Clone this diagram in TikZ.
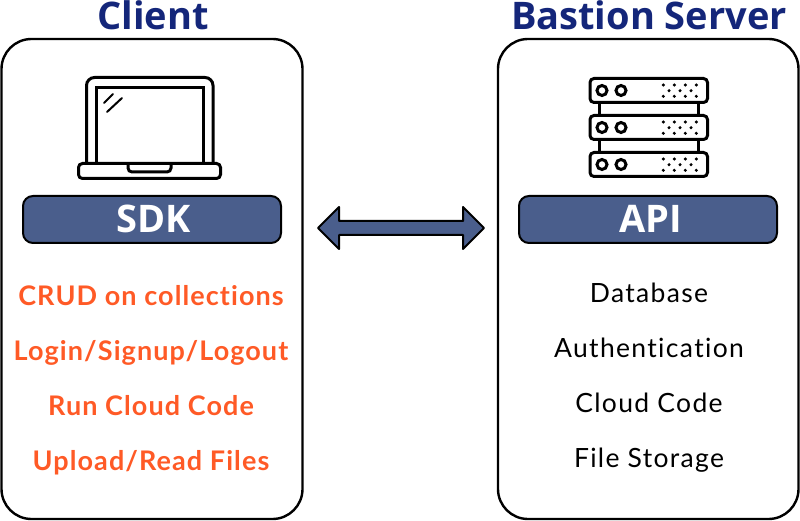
\documentclass[tikz,border=0pt]{standalone}
\usepackage{fontspec}
\setmainfont{Open Sans}
\newfontfamily\widefont[LetterSpace=5,Ligatures=CommonOff]{Lato}
\newfontfamily\boldwide[LetterSpace=4,Ligatures=CommonOff]{Lato}
\definecolor{titleblue}{HTML}{14267A}
\definecolor{barblue}{HTML}{4A5E8C}
\definecolor{clientorange}{HTML}{FF5A26}
\tikzset{
  panel/.style={draw,line width=2.4pt,rounded corners=30pt},
  bar/.style={draw,line width=2pt,fill=barblue,rounded corners=10pt},
  icon/.style={line width=3pt,rounded corners=4pt},
  heading/.style={text=titleblue,anchor=base,font=\fontsize{38}{38}\selectfont\bfseries,inner sep=0pt},
  barlabel/.style={text=white,anchor=base,font=\fontsize{38}{38}\selectfont\bfseries,inner sep=0pt},
  clientitem/.style={text=clientorange,anchor=base,font=\fontsize{27}{27}\boldwide\bfseries,inner sep=0pt},
  serveritem/.style={anchor=base,font=\fontsize{26.5}{26.5}\widefont,inner sep=0pt}
}
\begin{document}
\begin{tikzpicture}[x=1pt,y=-1pt]
  \useasboundingbox(0,0)rectangle(800,521);
  \draw[panel](1.5,39)rectangle(302.5,519);
  \draw[panel](498,39)rectangle(798.5,519);
  \node[heading](clienttitle)at(153,30){Client};
  \node[heading](servertitle)at(649,30){Bastion Server};
  % laptop
  \draw[icon,rounded corners=8pt](86.5,163)--(86.5,77.5)--(213,77.5)--(213,163);
  \draw[icon,rounded corners=0pt](96.5,163)--(96.5,88)--(203,88)--(203,163);
  \draw[icon](78.5,163.5)rectangle(220.5,178.5);
  \draw[icon](128,163.5)--(128,172)--(171,172)--(171,163.5);
  \draw[line width=2pt,line cap=round](104,103)--(113,94)(107,112)--(122,98);
  % server rack
  \foreach \y in {78.5,115.5,152.5}{
    \draw[icon](590,\y)rectangle(707.5,\y+24);
    \draw[line width=3pt](602,\y+12)circle(5)(621,\y+12)circle(5);
    \foreach \x in {663.3,674.3,685.3,696.3}
      \fill(\x,\y+6.5)circle(1.7)(\x,\y+17.8)circle(1.7);
    \foreach \x in {669,680,691}
      \fill(\x,\y+12.2)circle(1.7);
  }
  \draw[line width=3pt](599,102.5)--(599,115.5)(698,102.5)--(698,115.5)
    (599,139.5)--(599,152.5)(698,139.5)--(698,152.5);
  % bars
  \draw[bar](23,196)rectangle(281,243);
  \draw[bar](519,196)rectangle(777,243);
  \node[barlabel](sdk)at(153.5,233){SDK};
  \node[barlabel](api)at(650.5,233){API};
  % arrow
  \draw[line width=2pt,fill=barblue,line join=round](318,228)--(339,207)--(339,221)--(463,221)
    --(463,207)--(484,228)--(463,249)--(463,235)--(339,235)--(339,249)--cycle;
  % lists
  \node[clientitem](crud)at(151,305.5){CRUD on collections};
  \node[clientitem](login)at(151,360.5){Login/Signup/Logout};
  \node[clientitem](runcode)at(151,415.5){Run Cloud Code};
  \node[clientitem](upload)at(151,470.5){Upload/Read Files};
  \node[serveritem](database)at(649,302.5){Database};
  \node[serveritem](auth)at(649,357.5){Authentication};
  \node[serveritem](cloudcode)at(649,412.5){Cloud Code};
  \node[serveritem](storage)at(649,467.5){File Storage};
\end{tikzpicture}
\end{document}
